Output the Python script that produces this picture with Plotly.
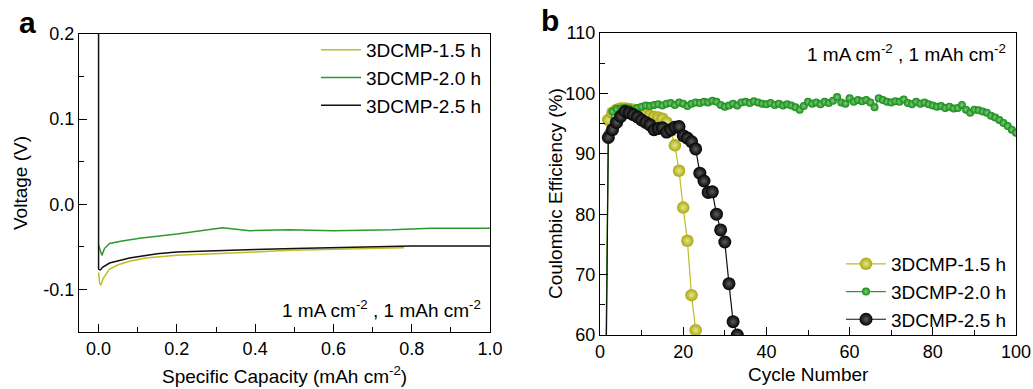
import plotly.graph_objects as go

# ---------------- Panel a: voltage profiles ----------------
cap_15 = [0.0, 0.003, 0.006, 0.012, 0.028, 0.05, 0.079, 0.12, 0.2, 0.317, 0.4, 0.488, 0.6, 0.7, 0.78]
volt_15 = [-0.080, -0.093, -0.095, -0.087, -0.076, -0.071, -0.067, -0.063, -0.060, -0.058, -0.056, -0.054, -0.053, -0.052, -0.051]

cap_20 = [0.0, 0.004, 0.0085, 0.015, 0.028, 0.06, 0.105, 0.2, 0.317, 0.386, 0.488, 0.6, 0.75, 0.85, 1.0]
volt_20 = [-0.048, -0.053, -0.060, -0.052, -0.046, -0.043, -0.040, -0.035, -0.0275, -0.031, -0.030, -0.031, -0.030, -0.028, -0.028]

cap_25 = [0.0, 0.0, 0.0025, 0.005, 0.01, 0.028, 0.079, 0.15, 0.2, 0.317, 0.4, 0.5, 0.6, 0.7, 0.8, 1.0]
volt_25 = [0.2, -0.076, -0.077, -0.077, -0.074, -0.069, -0.063, -0.058, -0.056, -0.054, -0.053, -0.052, -0.051, -0.050, -0.049, -0.049]

# ---------------- Panel b: coulombic efficiency ----------------
cyc_15 = list(range(1, 25))
ce_15 = [20, 95.6, 96.8, 97.3, 97.5, 97.5, 97.4, 97.3, 97.1, 96.9, 96.6, 96.3, 96.1, 96.0, 95.8,
         95.2, 93.8, 91.4, 87.2, 81.1, 75.6, 66.6, 60.8, 45]

cyc_20 = list(range(1, 101))
ce_20 = [30, 93.5, 97.0, 97.4, 97.5, 97.6, 97.5, 97.3, 97.6, 97.8,
         98.0, 97.9, 98.1, 98.2, 98.0, 98.3, 98.4, 98.1, 98.5, 98.3,
         97.9, 98.3, 98.5, 98.4, 98.6, 98.5, 98.8, 98.6, 98.1, 97.8,
         98.0, 98.3, 98.0, 98.5, 98.6, 98.4, 98.7, 98.5, 98.3, 98.2,
         98.4, 98.1, 98.3, 98.0, 98.2, 98.0, 97.7, 97.3, 97.9, 98.6,
         98.3, 98.5, 98.2, 98.6, 98.4, 98.8, 99.4, 98.5, 98.3, 99.2,
         98.6, 98.9, 98.7, 98.9, 98.5, 97.7, 99.2, 98.9, 98.6, 98.5,
         98.7, 98.6, 99.0, 98.4, 98.2, 98.6, 98.3, 98.5, 98.2, 98.0,
         97.8, 97.9, 97.6, 97.8, 97.5, 97.6, 98.1, 97.3, 96.8, 97.3,
         97.2, 97.0, 96.8, 96.3, 96.0, 95.6, 95.1, 94.6, 94.0, 93.5]

cyc_25 = list(range(1, 35))
ce_25 = [20, 92.7, 94.0, 95.2, 96.2, 97.0, 96.8, 96.5, 96.1, 95.6, 95.2, 94.8, 94.0, 94.2, 94.3,
         93.6, 94.0, 94.4, 94.5, 93.0, 92.6, 92.0, 90.8, 86.8, 85.5, 83.6, 83.7, 80.0, 77.4,
         75.4, 68.5, 62.2, 60.0, 45]

names = ["3DCMP-1.5 h", "3DCMP-2.0 h", "3DCMP-2.5 h"]
line_colors = ["#bdbd2a", "#2e9a2e", "#111111"]
marker_colors = ["#a9a912", "#168a16", "#030303"]
marker_centers = ["#e6e68a", "#7fcf7f", "#5c5c5c"]

y_a_ticks = [-0.1, 0.0, 0.1, 0.2]
y_a_text = ["-0.1", "0.0", "0.1", "0.2"]
x_a_ticks = [0.0, 0.2, 0.4, 0.6, 0.8, 1.0]
x_a_text = ["0.0", "0.2", "0.4", "0.6", "0.8", "1.0"]

FONT = "Liberation Sans, Arial, sans-serif"
W, H = 1033, 389


def px(p):
    return p / W


def py(p):
    return 1 - p / H


fig = go.Figure()

for xs, ys, nm, c in zip([cap_15, cap_20, cap_25], [volt_15, volt_20, volt_25], names, line_colors):
    fig.add_trace(go.Scatter(x=xs, y=ys, name=nm, mode="lines",
                             line=dict(color=c, width=1.5),
                             xaxis="x", yaxis="y", legend="legend"))

b_sets = [(cyc_15, ce_15, 12.5), (cyc_20, ce_20, 8), (cyc_25, ce_25, 13)]
for i in range(3):
    xs, ys, sz = b_sets[i]
    fig.add_trace(go.Scatter(x=xs, y=ys, name=names[i], mode="lines+markers",
                             line=dict(color=line_colors[i], width=1.2),
                             marker=dict(size=sz, color=marker_colors[i],
                                         gradient=dict(type="radial", color=marker_centers[i]),
                                         line=dict(width=0)),
                             xaxis="x2", yaxis="y2", legend="legend2"))

axis_common = dict(showline=True, linecolor="black", linewidth=1.3, mirror=True,
                   ticks="inside", ticklen=8, tickwidth=1.2, tickcolor="black",
                   showgrid=False, zeroline=False, automargin=False,
                   tickfont=dict(family=FONT, size=18, color="black"))
minor_common = dict(ticks="inside", ticklen=5, tickwidth=1.2, tickcolor="black")

fig.update_layout(
    width=W, height=H,
    margin=dict(l=0, r=0, t=0, b=0, autoexpand=False),
    paper_bgcolor="white", plot_bgcolor="white",
    font=dict(family=FONT, color="black"),
    xaxis=dict(domain=[px(79), px(490)], range=[-0.05, 1.0], anchor="y",
               tickvals=x_a_ticks, ticktext=x_a_text,
               minor=dict(dtick=0.1, tick0=0, **minor_common),
               **axis_common),
    yaxis=dict(domain=[py(332), py(34)], range=[-0.15, 0.2], anchor="x",
               tickvals=y_a_ticks, ticktext=y_a_text,
               minor=dict(dtick=0.05, tick0=0, **minor_common),
               **axis_common),
    xaxis2=dict(domain=[px(600), px(1016)], range=[0, 100], anchor="y2",
                dtick=20, tick0=0,
                minor=dict(dtick=10, tick0=0, **minor_common),
                **axis_common),
    yaxis2=dict(domain=[py(335), py(33)], range=[60, 110], anchor="x2",
                dtick=10, tick0=60,
                minor=dict(dtick=5, tick0=60, **minor_common),
                **axis_common),
    legend=dict(x=px(487), y=py(78), xanchor="right", yanchor="middle",
                bgcolor="rgba(0,0,0,0)", font=dict(family=FONT, size=19, color="black"),
                tracegroupgap=0, itemwidth=40),
    legend2=dict(x=px(1012), y=py(292), xanchor="right", yanchor="middle",
                 bgcolor="rgba(0,0,0,0)", font=dict(family=FONT, size=19, color="black"),
                 tracegroupgap=0, itemwidth=40, traceorder="normal"),
    showlegend=True,
)


def note(text, x, y, size=19, angle=0, xanchor="center"):
    fig.add_annotation(text=text, xref="paper", yref="paper", x=px(x), y=py(y),
                       xanchor=xanchor, yanchor="middle", showarrow=False, textangle=angle,
                       font=dict(family=FONT, size=size, color="black"))


# axis titles
note("Specific Capacity (mAh cm<sup>-2</sup>)", 284.5, 375)
note("Voltage (V)", 20, 183, angle=-90)
note("Cycle Number", 808, 374)
note("Coulombic Efficiency (%)", 555, 194, angle=-90)
# condition labels
note("1 mA cm<sup>-2</sup> , 1 mAh cm<sup>-2</sup>", 483, 309, xanchor="right")
note("1 mA cm<sup>-2</sup> , 1 mAh cm<sup>-2</sup>", 1008, 53, xanchor="right")
# panel letters
note("<b>a</b>", 27, 22.5, size=30)
note("<b>b</b>", 550, 21, size=30)

fig.write_html("out.html", config={"displayModeBar": False},
               post_script="document.body.style.margin='0';document.body.style.overflow='hidden';")
